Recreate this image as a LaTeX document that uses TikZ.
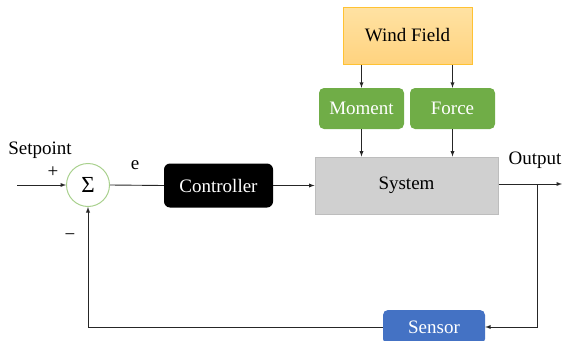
\documentclass[tikz,border=0pt]{standalone}
\usepackage{fontspec}
\setmainfont{Liberation Serif}
\usetikzlibrary{positioning}

\definecolor{windtop}{HTML}{FFE2A3}
\definecolor{windbot}{HTML}{FFD37F}
\definecolor{windline}{HTML}{FFC233}
\definecolor{leafgreen}{HTML}{70AD47}
\definecolor{ringgreen}{HTML}{A9D18E}
\definecolor{sensorblue}{HTML}{4472C4}
\definecolor{plantgray}{HTML}{D0D0D0}
\definecolor{plantline}{HTML}{BDBDBD}
\definecolor{wire}{HTML}{262626}

\begin{document}
\begin{tikzpicture}[x=1pt, y=-1pt, font=\fontsize{19}{22}\selectfont, >=latex,
  wire/.style={draw=wire, line width=0.9pt},
  greenbox/.style={fill=leafgreen, text=white, rounded corners=5pt, minimum width=85, minimum height=41},
  lbl/.style={inner sep=0pt}]
\clip (0,0) rectangle (562,340);
% blocks
\node[draw=windline, line width=1pt, top color=windtop, bottom color=windbot, minimum width=129, minimum height=57] (wind) at (407.5,35.5) {Wind Field};
\node[greenbox] (moment) at (361.5,108.5) {Moment};
\node[greenbox] (force) at (452.5,108.5) {Force};
\node[draw=plantline, fill=plantgray, line width=1pt, minimum width=183, minimum height=57] (sys) at (406.5,185.5) {System};
\node[fill=black, text=white, rounded corners=6pt, minimum width=109, minimum height=44] (ctrl) at (218.5,185.5) {Controller};
\node[draw=ringgreen, line width=1pt, circle, minimum size=43, inner sep=0pt, font=\fontsize{23}{24}\selectfont] (sum) at (88,185) {Σ};
\node[fill=sensorblue, text=white, rounded corners=5pt, minimum width=102, minimum height=34] (sensor) at (434,327) {Sensor};
% labels
\node[lbl] (setpt) at (40,150) {Setpoint};
\node[lbl] (plus) at (53,172) {+};
\node[lbl] (minus) at (70,237) {−};
\node[lbl] (err) at (135,165) {e};
\node[lbl] (out) at (535,160) {Output};
% free ends
\coordinate (in) at (17,185);
\coordinate (end) at (562,184);
\coordinate (tap) at (537,184);
% Arrows
\draw[wire, ->] (wind.south -| moment) -- (moment.north);
\draw[wire, ->] (wind.south -| force) -- (force.north);
\draw[wire, ->] (moment.south) -- (moment.south |- sys.north);
\draw[wire, ->] (force.south) -- (force.south |- sys.north);
\draw[wire, ->] (in) -- (sum.west);
\draw[wire] (sum.east) -- (ctrl.west);
\draw[wire, ->] (ctrl.east) -- (ctrl.east -| sys.west);
\draw[wire, ->] (sys.east |- end) -- (end);
% Feedback
\draw[wire, ->] (tap) |- (sensor.east);
\draw[wire, ->] (sensor.west) -| (sum.south);
\end{tikzpicture}
\end{document}
